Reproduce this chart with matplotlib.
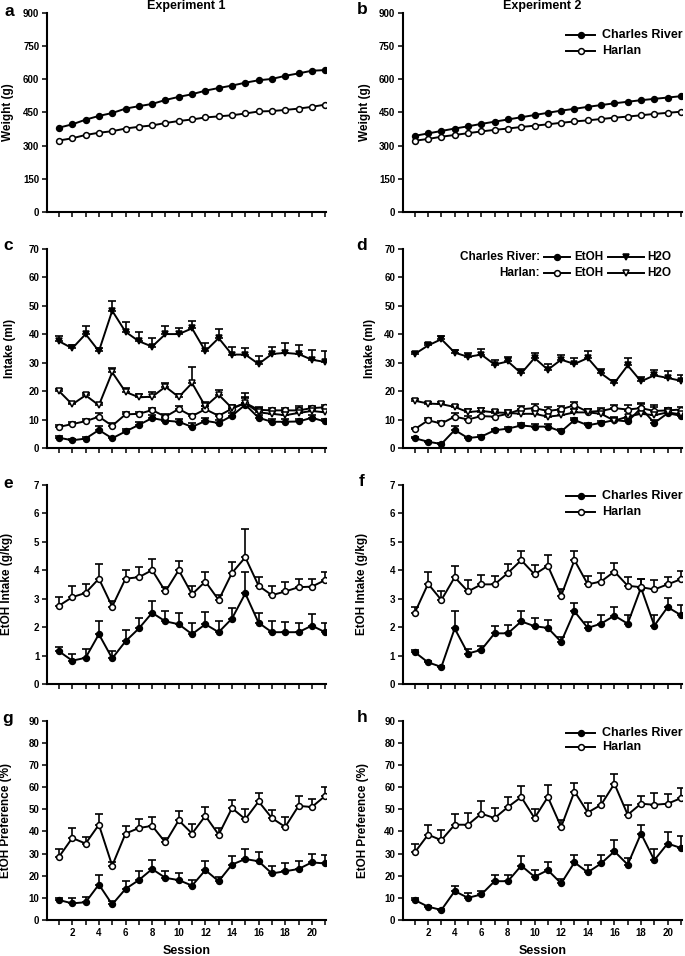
import numpy as np
import matplotlib.pyplot as plt

plt.rcParams['font.family'] = ['Liberation Sans', 'DejaVu Sans']
plt.rcParams['font.weight'] = 'bold'

sessions = np.arange(1, 22)

# --- a / b : body weight (g)
wt1_cr = [381, 396, 417, 434, 447, 467, 478, 488, 506, 520, 532, 548, 560, 571, 584, 595, 601, 615, 626, 638, 641]
wt1_har = [323, 333, 348, 358, 365, 377, 385, 391, 402, 411, 418, 427, 432, 437, 445, 454, 456, 461, 467, 475, 485]
wt2_cr = [344, 355, 366, 377, 387, 398, 408, 418, 428, 438, 448, 458, 466, 475, 483, 491, 498, 505, 511, 517, 523]
wt2_har = [322, 330, 340, 348, 356, 364, 371, 377, 384, 390, 396, 403, 409, 414, 420, 426, 431, 437, 443, 448, 453]

# --- c : intake (ml), experiment 1
h2o1_cr = [37.5, 35, 40, 34, 48.2, 40.8, 37.5, 35.6, 40, 40, 42, 34, 38.6, 32.8, 32.8, 29.5, 33, 33.4, 33, 31, 30.2]
h2o1_cr_err = [1.7, 1, 2.7, 1, 3.3, 3.4, 3.2, 3, 2.7, 2.1, 2.6, 2.9, 3.3, 2.7, 2.3, 2.9, 2.4, 3.5, 3.3, 3.5, 4]
h2o1_har = [20, 15.3, 18.5, 15, 26.6, 19.7, 17.8, 18, 21.5, 17.9, 22.8, 14.6, 18.7, 14, 15.8, 12.5, 12, 11.5, 12.3, 13, 12.5]
h2o1_har_err = [0.8, 0.5, 0.8, 0.8, 1.5, 1.3, 1.3, 1.8, 1.3, 1, 5.8, 1.5, 1.8, 1, 3.5, 1.5, 1.5, 1.3, 2.5, 1.5, 1.5]
etoh1_har = [7.4, 8.4, 9.4, 11, 7.8, 11.8, 12, 13.3, 11, 13.7, 11.2, 13.6, 11.3, 13.8, 15.8, 13.4, 13.2, 13.2, 13.2, 14, 14.3]
etoh1_har_err = [0.8, 0.8, 0.8, 1.3, 0.8, 0.8, 0.8, 0.9, 0.8, 1, 0.8, 1, 0.8, 1, 2, 1, 1, 1, 0.9, 0.8, 0.8]
etoh1_cr = [3.6, 2.7, 3.3, 6.3, 3.4, 5.8, 8.1, 10.5, 9.6, 9.2, 7.4, 9.5, 8.8, 11.3, 15.2, 10.6, 9.2, 9.2, 9.3, 10.6, 9.3]
etoh1_cr_err = [0.5, 0.5, 0.6, 1.5, 0.6, 0.9, 0.9, 1, 1, 1, 1.2, 1.2, 1, 1, 2.5, 1, 1, 1, 1, 1, 0.9]

# --- d : intake (ml), experiment 2
h2o2_cr = [33, 36, 38.2, 33.5, 32, 32.8, 29.3, 30.4, 26.2, 31.6, 27.5, 31, 29.5, 31.6, 26.2, 22.8, 29, 23.4, 25.5, 24.6, 23.6]
h2o2_cr_err = [0.8, 1, 1.2, 1, 1.2, 1.8, 1.5, 1.5, 1.5, 1.8, 2, 1.8, 2, 2.5, 1.5, 1, 2.5, 1.5, 2, 2.5, 2]
h2o2_har = [16.6, 15.6, 15.4, 14.4, 12.6, 13, 12.5, 12.3, 12, 12, 11, 11.5, 12.5, 12.5, 12, 9.6, 11, 12, 11.5, 12.5, 11.8]
h2o2_har_err = [0.6, 0.6, 0.6, 0.8, 1.2, 1.2, 1, 1, 1.3, 1.2, 1.5, 1.5, 1.2, 1.2, 1.5, 1, 2, 2, 3, 1.5, 1.5]
etoh2_har = [6.6, 9.7, 8.6, 11, 10, 11.2, 11, 12, 13.6, 14, 13, 13.6, 15, 12.7, 13, 14, 13.5, 14, 13, 13.2, 13.5]
etoh2_har_err = [0.5, 0.8, 0.8, 1.3, 1.3, 1.3, 1.2, 0.8, 1.3, 1.3, 1.3, 1.3, 1, 1, 1, 1, 1.5, 1.8, 2, 1, 1]
etoh2_cr = [3.4, 2.2, 1.4, 6.3, 3.5, 4, 6.2, 6.8, 7.9, 7.5, 7.5, 5.8, 9.8, 8, 8.8, 9.8, 9.3, 14, 8.8, 12.2, 11.3]
etoh2_cr_err = [0.3, 0.3, 0.3, 1.5, 0.5, 0.5, 0.6, 0.6, 0.8, 0.8, 0.8, 0.8, 0.8, 0.8, 0.8, 1, 1, 1.5, 1, 1, 1]

# --- e / f : EtOH intake (g/kg)
gkg1_har = [2.75, 3.05, 3.2, 3.7, 2.72, 3.7, 3.75, 4.0, 3.25, 4.0, 3.15, 3.6, 2.95, 3.9, 4.45, 3.45, 3.12, 3.25, 3.4, 3.42, 3.65]
gkg1_har_err = [0.32, 0.38, 0.3, 0.5, 0.2, 0.32, 0.37, 0.38, 0.15, 0.32, 0.3, 0.35, 0.18, 0.37, 0.98, 0.32, 0.33, 0.33, 0.3, 0.28, 0.28]
gkg1_cr = [1.15, 0.82, 0.92, 1.75, 0.9, 1.5, 1.95, 2.5, 2.2, 2.1, 1.75, 2.1, 1.82, 2.3, 3.18, 2.15, 1.82, 1.82, 1.82, 2.05, 1.82]
gkg1_cr_err = [0.15, 0.25, 0.3, 0.47, 0.27, 0.38, 0.37, 0.43, 0.38, 0.38, 0.4, 0.42, 0.38, 0.38, 0.75, 0.35, 0.38, 0.35, 0.32, 0.4, 0.33]
gkg2_har = [2.5, 3.52, 2.95, 3.75, 3.25, 3.5, 3.5, 3.9, 4.35, 3.85, 4.15, 3.1, 4.35, 3.5, 3.6, 3.95, 3.45, 3.4, 3.32, 3.5, 3.68]
gkg2_har_err = [0.2, 0.4, 0.3, 0.4, 0.42, 0.33, 0.3, 0.3, 0.33, 0.33, 0.38, 0.25, 0.33, 0.3, 0.3, 0.3, 0.3, 0.3, 0.33, 0.25, 0.28]
gkg2_cr = [1.12, 0.76, 0.6, 1.95, 1.07, 1.2, 1.78, 1.78, 2.2, 2.03, 1.97, 1.48, 2.55, 1.97, 2.12, 2.4, 2.12, 3.38, 2.05, 2.7, 2.42]
gkg2_cr_err = [0.08, 0.05, 0.03, 0.62, 0.15, 0.15, 0.25, 0.3, 0.35, 0.3, 0.28, 0.18, 0.3, 0.22, 0.32, 0.32, 0.3, 0.3, 0.38, 0.33, 0.35]

# --- g / h : EtOH preference (%)
pref1_har = [28.5, 37, 34.5, 43, 24.5, 39, 41.5, 42.5, 35, 45, 39, 47, 38.5, 50.5, 45.5, 53.5, 46, 42, 51.5, 51, 56]
pref1_har_err = [3.5, 4.5, 3, 5, 1.5, 3.5, 4, 4, 2, 4, 4.5, 4, 3, 3.5, 4.5, 4, 3.5, 4.5, 4.5, 3.5, 4]
pref1_cr = [9, 7.5, 8, 16, 7, 14, 18, 23, 19, 18, 15.5, 22.5, 17.5, 25, 27.5, 26.5, 21, 22, 23, 26, 25.5]
pref1_cr_err = [1, 2.5, 2.5, 4.5, 1.5, 3.5, 4, 4, 3, 3, 2.5, 4, 2, 4, 4.5, 4, 3.5, 3.5, 3.5, 4, 4]
pref2_har = [30.5, 38.5, 36, 43, 43, 48, 46, 51, 55.5, 46, 55.5, 42, 58, 48.5, 52, 61.5, 47.5, 52.5, 52, 52.5, 55]
pref2_har_err = [4, 4.5, 4.5, 5, 5.5, 5.5, 4.5, 4.5, 5, 4, 5.5, 3, 4, 4.5, 4, 4.5, 4.5, 3.5, 5.5, 4.5, 4.5]
pref2_cr = [9, 6, 4.5, 13, 10, 11.5, 17.5, 17.5, 24.5, 19.5, 22.5, 16.5, 26, 21.5, 25.5, 31, 25, 39, 27, 34.5, 32.5]
pref2_cr_err = [1, 0.5, 0.5, 2.5, 2, 1.5, 3, 3, 4.5, 3, 3.5, 2, 3.5, 3.5, 4, 5, 3, 4, 5, 5, 5.5]


def series(ax, y, err=None, filled=True, marker='o'):
    if err is not None:
        ax.errorbar(sessions, y, yerr=[np.zeros(len(err)), err], fmt='none',
                    ecolor='k', elinewidth=1.2, capsize=2.6, capthick=1.2, zorder=2)
    face = 'k' if filled else 'white'
    ax.plot(sessions, y, color='k', lw=1.4, marker=marker, ms=4.2,
            mfc=face, mec='k', mew=1.1, zorder=3)


def style(ax, ymax, ystep, ylabel, labx, bottom=False):
    ax.set_xlim(0.1, 21.1)
    ax.set_ylim(0, ymax)
    ax.set_yticks(np.arange(0, ymax + ystep / 2, ystep))
    ax.set_xticks(sessions)
    if bottom:
        ax.set_xticklabels([str(s) if s % 2 == 0 else '' for s in sessions])
        ax.set_xlabel('Session', fontsize=9, fontweight='bold', labelpad=5)
    else:
        ax.set_xticklabels([])
    for side in ['top', 'right']:
        ax.spines[side].set_visible(False)
    for side in ['left', 'bottom']:
        ax.spines[side].set_linewidth(1.5)
    ax.tick_params(direction='out', length=3.5, width=1.1, labelsize=7, pad=2)
    ax.set_ylabel(ylabel, fontsize=8.5, fontweight='bold')
    ax.yaxis.set_label_coords(labx, 0.5)


def legend2(ax, y1, y2, x0=0.584, x1=0.688, xt=0.713, size=9):
    for y, filled, lab in [(y1, True, 'Charles River'), (y2, False, 'Harlan')]:
        ax.plot([x0, (x0 + x1) / 2, x1], [y, y, y], color='k', lw=1.4, marker='o',
                markevery=[1], ms=4.2, mfc='k' if filled else 'white', mec='k',
                mew=1.1, transform=ax.transAxes, clip_on=False)
        ax.text(xt, y, lab, transform=ax.transAxes, va='center', ha='left',
                fontsize=size, fontweight='bold')


fig = plt.figure(figsize=(6.85, 9.56), dpi=100)
lefts = [0.0686, 0.588]
bottoms = [0.7782, 0.5314, 0.2845, 0.0377]
W, H = 0.408, 0.2085

axs = [[fig.add_axes([l, b, W, H]) for l in lefts] for b in bottoms]

# a, b
ax = axs[0][0]
series(ax, wt1_cr, filled=True)
series(ax, wt1_har, filled=False)
style(ax, 900, 150, 'Weight (g)', -0.118)
ax.text(0.5, 1.035, 'Experiment 1', transform=ax.transAxes, ha='center', va='center',
        fontsize=9, fontweight='bold')

ax = axs[0][1]
series(ax, wt2_cr, filled=True)
series(ax, wt2_har, filled=False)
style(ax, 900, 150, 'Weight (g)', -0.115)
ax.text(0.5, 1.035, 'Experiment 2', transform=ax.transAxes, ha='center', va='center',
        fontsize=9, fontweight='bold')
legend2(ax, 0.889, 0.809)

# c, d
ax = axs[1][0]
series(ax, etoh1_cr, etoh1_cr_err, True, 'o')
series(ax, etoh1_har, etoh1_har_err, False, 'o')
series(ax, h2o1_har, h2o1_har_err, False, 'v')
series(ax, h2o1_cr, h2o1_cr_err, True, 'v')
style(ax, 70, 10, 'Intake (ml)', -0.111)

ax = axs[1][1]
series(ax, etoh2_cr, etoh2_cr_err, True, 'o')
series(ax, etoh2_har, etoh2_har_err, False, 'o')
series(ax, h2o2_har, h2o2_har_err, False, 'v')
series(ax, h2o2_cr, h2o2_cr_err, True, 'v')
style(ax, 70, 10, 'Intake (ml)', -0.095)
for y, filled, lab in [(0.96, True, 'Charles River:'), (0.879, False, 'Harlan:')]:
    fc = 'k' if filled else 'white'
    ax.text(0.49, y, lab, transform=ax.transAxes, ha='right', va='center',
            fontsize=8.5, fontweight='bold')
    for xa, xb, mk, xt in [(0.505, 0.6, 'o', 0.613), (0.735, 0.862, 'v', 0.875)]:
        ax.plot([xa, (xa + xb) / 2, xb], [y, y, y], color='k', lw=1.4, marker=mk,
                markevery=[1], ms=4.2, mfc=fc, mec='k', mew=1.1,
                transform=ax.transAxes, clip_on=False)
        ax.text(xt, y, 'EtOH' if mk == 'o' else 'H2O', transform=ax.transAxes,
                ha='left', va='center', fontsize=8.5, fontweight='bold')

# e, f
ax = axs[2][0]
series(ax, gkg1_cr, gkg1_cr_err, True)
series(ax, gkg1_har, gkg1_har_err, False)
style(ax, 7, 1, 'EtOH Intake (g/kg)', -0.121)

ax = axs[2][1]
series(ax, gkg2_cr, gkg2_cr_err, True)
series(ax, gkg2_har, gkg2_har_err, False)
style(ax, 7, 1, 'EtOH Intake (g/kg)', -0.125)
legend2(ax, 0.945, 0.865)

# g, h
ax = axs[3][0]
series(ax, pref1_cr, pref1_cr_err, True)
series(ax, pref1_har, pref1_har_err, False)
style(ax, 90, 10, 'EtOH Preference (%)', -0.125, bottom=True)

ax = axs[3][1]
series(ax, pref2_cr, pref2_cr_err, True)
series(ax, pref2_har, pref2_har_err, False)
style(ax, 90, 10, 'EtOH Preference (%)', -0.122, bottom=True)
legend2(ax, 0.94, 0.866)

# panel letters
letters = ['a', 'b', 'c', 'd', 'e', 'f', 'g', 'h']
letter_px = [(9, 11), (362, 10), (8, 246), (362, 246), (8, 483), (362, 482), (8, 719), (362, 717)]
for lab, (px, py) in zip(letters, letter_px):
    fig.text(px / 685, 1 - py / 956, lab, ha='center', va='center',
             fontsize=12.5, fontweight='bold')

fig.savefig('out.png', dpi=100)
